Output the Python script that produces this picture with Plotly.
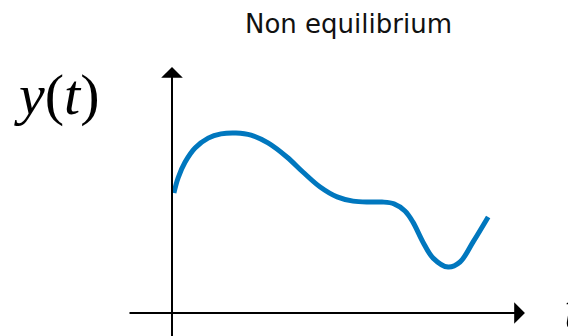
import plotly.graph_objects as go

# Curve samples (arbitrary units)
t_vals = [0.06, 0.19, 0.41, 0.72, 1.13, 1.53, 2.00, 2.47, 3.00, 3.59, 4.09, 4.63,
          5.16, 5.66, 6.19, 6.56, 6.94, 7.28, 7.53, 7.84, 8.16, 8.63, 9.00, 9.41, 9.88]
y_vals = [4.00, 4.50, 5.03, 5.50, 5.83, 5.97, 6.00, 5.93, 5.67, 5.20, 4.70, 4.20,
          3.87, 3.73, 3.70, 3.70, 3.64, 3.40, 3.03, 2.37, 1.83, 1.53, 1.70, 2.37, 3.20]

title_text = "Non equilibrium"
y_label = "<i>y</i>(<i>t</i>)"
x_label = "<i>t</i>"

# axis extents (data units)
x_axis_start, x_axis_end = -1.375, 11.03
y_axis_start, y_axis_end = -1.0, 8.2

# page body has an 8px margin; figure is sized/offset to compensate
OFF = 8
W, H = 576 - OFF, 336 - OFF
X0, Y0 = 172 - OFF, 313 - OFF   # origin pixel in figure
SX, SY = 32, 30                 # pixels per unit
x_range = [-X0 / SX, (W - X0) / SX]
y_range = [-(H - Y0) / SY, Y0 / SY]


def px(x):
    return (x - OFF) / W


def py(y):
    return 1 - (y - OFF) / H


fig = go.Figure()
fig.add_trace(go.Scatter(x=t_vals, y=y_vals, mode="lines",
                         line=dict(color="#0077BE", width=5, shape="spline", smoothing=1.0),
                         hoverinfo="skip", showlegend=False))

# axes arrows
fig.add_annotation(x=x_axis_end, y=0, ax=x_axis_start, ay=0, xref="x", yref="y",
                   axref="x", ayref="y", showarrow=True, arrowhead=1, arrowsize=1.8,
                   arrowwidth=2, arrowcolor="black", text="")
fig.add_annotation(x=0, y=y_axis_end, ax=0, ay=y_axis_start, xref="x", yref="y",
                   axref="x", ayref="y", showarrow=True, arrowhead=1, arrowsize=1.8,
                   arrowwidth=2, arrowcolor="black", text="")

fig.add_annotation(text=title_text, x=px(348), y=py(24), xref="paper", yref="paper",
                   showarrow=False, xanchor="center", yanchor="middle",
                   font=dict(family="DejaVu Sans", size=26, color="#111111"))
fig.add_annotation(text=y_label, x=px(57), y=py(94), xref="paper", yref="paper",
                   showarrow=False, xanchor="center", yanchor="middle",
                   font=dict(family="Liberation Serif", size=58, color="black"))
fig.add_annotation(text=x_label, x=px(562), y=py(308), xref="paper", yref="paper",
                   showarrow=False, xanchor="left", yanchor="middle",
                   font=dict(family="Liberation Serif", size=58, color="black"))

fig.update_layout(width=W, height=H, margin=dict(l=0, r=0, t=0, b=0),
                  paper_bgcolor="white", plot_bgcolor="white",
                  xaxis=dict(range=x_range, visible=False, fixedrange=True),
                  yaxis=dict(range=y_range, visible=False, fixedrange=True))

fig.write_html("out.html")
